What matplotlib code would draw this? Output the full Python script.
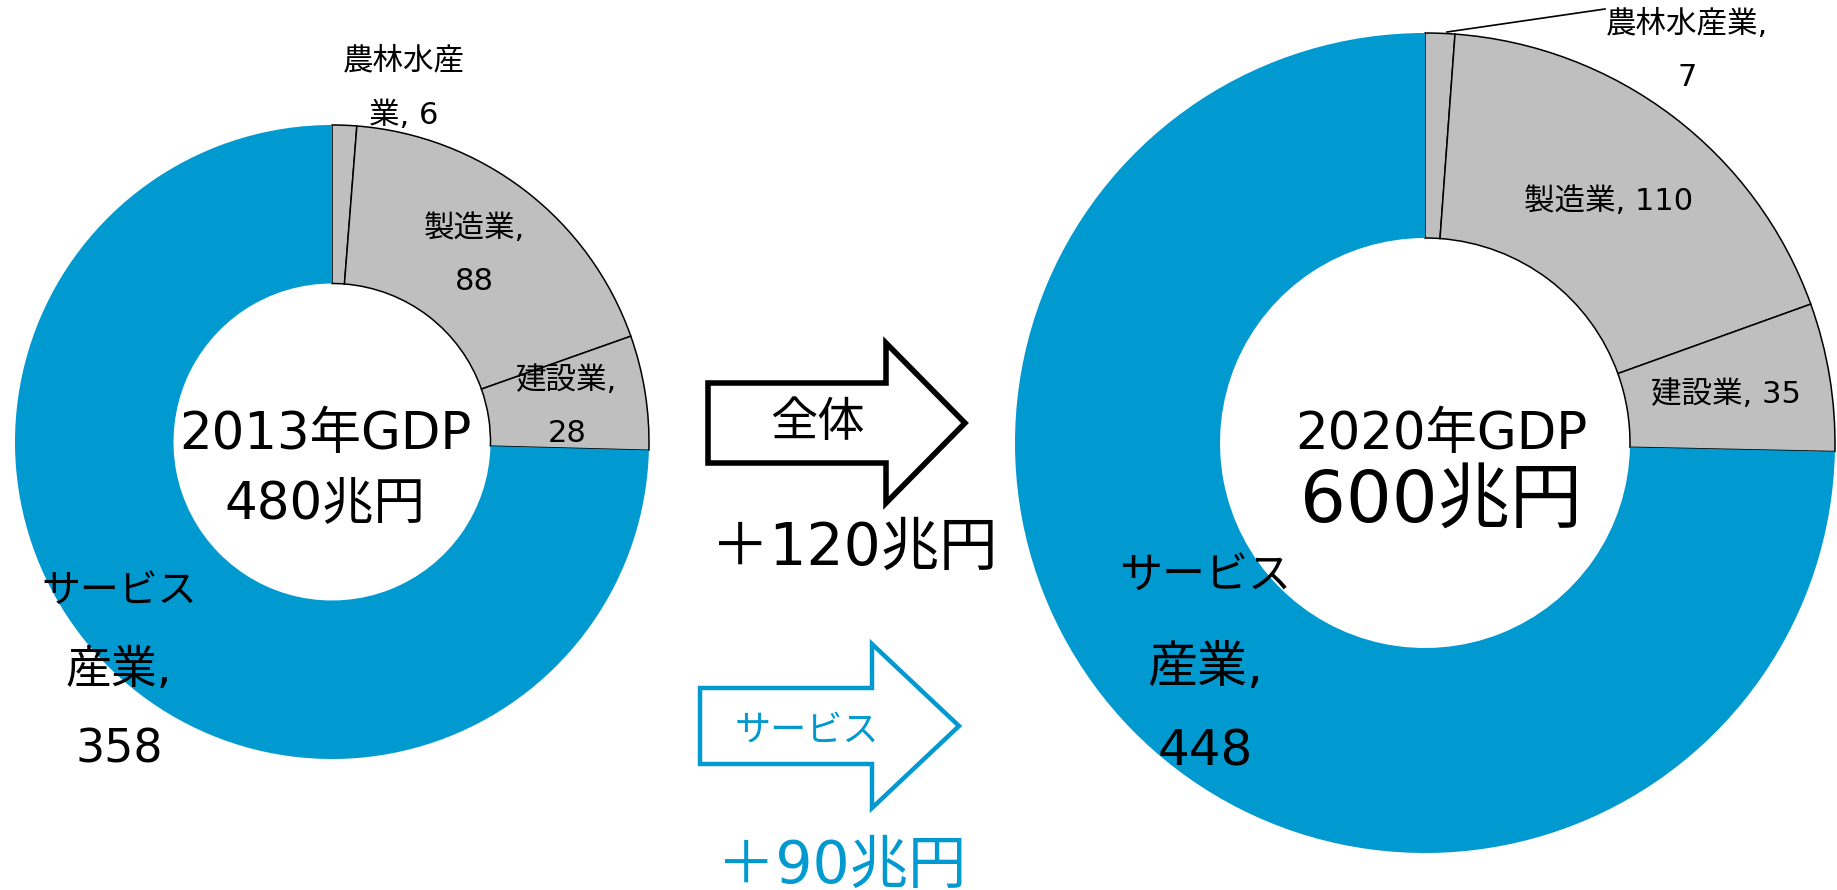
import matplotlib

matplotlib.use("Agg")
import matplotlib.pyplot as plt
from matplotlib.patches import Polygon

# Verdana-like latin/digits, CJK from Noto
plt.rcParams["font.family"] = ["DejaVu Sans", "Noto Sans CJK JP"]

W, H = 1837, 890
BLUE = "#0099d0"
GREY = "#bfbfbf"

# data (兆円)
sectors = ["農林水産業", "製造業", "建設業", "サービス産業"]
gdp_2013 = [6, 88, 28, 358]
gdp_2020 = [7, 110, 35, 448]
colors = [GREY, GREY, GREY, BLUE]

# label lines as laid out in the original
labels_2013 = [["農林水産", "業, 6"], ["製造業,", "88"], ["建設業,", "28"],
               ["サービス", "産業,", "358"]]
labels_2020 = [["農林水産業,", "7"], ["製造業, 110"], ["建設業, 35"],
               ["サービス", "産業,", "448"]]


def py(y):
    # pixel-from-top -> data y
    return H - y


fig = plt.figure(figsize=(W / 100, H / 100), dpi=100)
ax = fig.add_axes([0, 0, 1, 1])


def donut(values, cx, cy, r):
    wedges, _ = ax.pie(
        values,
        colors=colors,
        center=(cx, py(cy)),
        radius=r,
        startangle=90,
        counterclock=False,
        wedgeprops=dict(width=r * 0.5),
    )
    for w, c in zip(wedges, colors):
        if c == GREY:
            w.set_edgecolor("black")
            w.set_linewidth(1.1)
        else:
            w.set_edgecolor("none")


donut(gdp_2013, 332, 442, 317)
donut(gdp_2020, 1425, 443, 410)

# data labels: x centre, y of each line, font size of each line
pos_2013 = [(404, [61, 115]), (474, [228, 281]), (567, [380, 433]),
            (119, [591, 670, 750])]
fs_2013 = [[22, 22], [22, 22], [22, 22], [28, 33, 33]]
for lines, (x, ys), sizes in zip(labels_2013, pos_2013, fs_2013):
    for t, y, fs in zip(lines, ys, sizes):
        ax.text(x, py(y), t, ha="center", va="center", fontsize=fs)

pos_2020 = [(1687, [24, 77]), (1609, [201]), (1726, [394]),
            (1205, [576, 668, 752])]
fs_2020 = [[22, 22], [22], [22], [31, 36, 36]]
for lines, (x, ys), sizes in zip(labels_2020, pos_2020, fs_2020):
    for t, y, fs in zip(lines, ys, sizes):
        ax.text(x, py(y), t, ha="center", va="center", fontsize=fs)

# leader line for the small 2020 slice
ax.plot([1447, 1605], [py(32), py(9)], color="black", lw=1.2)

# centre texts
ax.text(325, py(435), "2013年GDP", ha="center", va="center", fontsize=37)
ax.text(325, py(505), f"{sum(gdp_2013)}兆円", ha="center", va="center", fontsize=37)
ax.text(1441, py(435), "2020年GDP", ha="center", va="center", fontsize=37)
ax.text(1441, py(503), f"{sum(gdp_2020)}兆円", ha="center", va="center", fontsize=52)


# arrows
def arrow(x0, x1, x2, yc, hs, hh, color, lw):
    pts = [
        (x0, yc - hs), (x1, yc - hs), (x1, yc - hh), (x2, yc),
        (x1, yc + hh), (x1, yc + hs), (x0, yc + hs),
    ]
    ax.add_patch(
        Polygon([(x, py(y)) for x, y in pts], closed=True, fill=False,
                edgecolor=color, linewidth=lw, joinstyle="miter")
    )


arrow(708, 886, 965, 423, 40, 80, "black", 4.0)
ax.text(817, py(424), "全体", ha="center", va="center", fontsize=34)
ax.text(854, py(548), f"＋{sum(gdp_2020) - sum(gdp_2013)}兆円",
        ha="center", va="center", fontsize=42)

arrow(700, 872, 959, 726, 38, 82, BLUE, 3.2)
ax.text(807, py(731), "サービス", ha="center", va="center", fontsize=26, color=BLUE)
ax.text(842, py(866), f"＋{gdp_2020[3] - gdp_2013[3]}兆円",
        ha="center", va="center", fontsize=42, color=BLUE)

ax.set_xlim(0, W)
ax.set_ylim(0, H)
ax.set_aspect("equal")
ax.axis("off")

fig.savefig("out.png", dpi=100)
